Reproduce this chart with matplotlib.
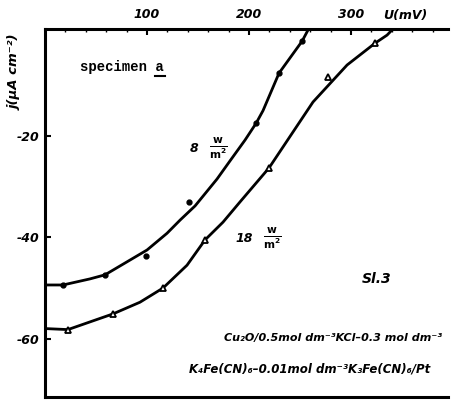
import numpy as np
import matplotlib
matplotlib.use('Agg')
from matplotlib import pyplot as plt
from matplotlib.lines import Line2D

# curve 8 W/m2 (filled circles)
u_8 = [0, 17.6, 44.1, 58.8, 100, 119.6, 132.4, 147.1, 168.6, 181.4, 196.1, 206.9, 213.7, 229.4, 252.0, 257.8]
j_8 = [-49.4, -49.4, -48.2, -47.4, -42.5, -39.2, -36.6, -33.8, -28.5, -24.9, -20.8, -17.5, -15.0, -7.6, -1.3, 0.9]
u_8_pts = [17.6, 58.8, 99, 141, 206.9, 229.4, 252.0]
j_8_pts = [-49.4, -47.4, -43.7, -33.0, -17.5, -7.6, -1.3]

# curve 18 W/m2 (open triangles)
u_18 = [0, 22.5, 66.7, 93.1, 115.7, 139.2, 156.9, 174.5, 191.2, 219.6, 262.7, 296.1, 323.5, 335.3, 341]
j_18 = [-58.0, -58.2, -55.1, -52.8, -50.0, -45.5, -40.5, -37.0, -33.0, -26.3, -13.3, -6.0, -1.7, -0.1, 1.1]
u_18_pts = [22.5, 66.7, 115.7, 156.9, 219.6, 277.5, 323.5]
j_18_pts = [-58.2, -55.1, -50.0, -40.5, -26.3, -8.4, -1.7]

x_ticks = [100, 200, 300]
y_ticks = [-20, -40, -60]

fig = plt.figure(figsize=(4.53, 4.01), dpi=100)
ax = fig.add_axes([45 / 453, 1 - 397 / 401, 403 / 453, 368 / 401])

ax.plot(u_8, j_8, color='black', lw=2.0, solid_capstyle='round')
ax.plot(u_8_pts, j_8_pts, 'o', color='black', ms=3.5)
ax.plot(u_18, j_18, color='black', lw=2.0, solid_capstyle='round')
ax.plot(u_18_pts, j_18_pts, '^', mfc='white', mec='black', mew=1.3, ms=4.5)

ax.set_xlim(0, 395)
ax.set_ylim(-71.5, 1.1)

ax.xaxis.tick_top()
ax.set_xticks(x_ticks)
ax.set_xticks(np.arange(20, 395, 20), minor=True)
ax.set_yticks(y_ticks)
lbl = dict(fontsize=9, fontweight='bold', fontstyle='italic', family='DejaVu Sans')
ax.set_xticklabels([str(t) for t in x_ticks], **lbl)
ax.set_yticklabels([str(t) for t in y_ticks], **lbl)
ax.tick_params(axis='x', which='major', direction='in', length=4, width=1.5, pad=6)
ax.tick_params(axis='x', which='minor', direction='in', length=2, width=1)
ax.tick_params(axis='y', direction='in', length=4, width=1.5, pad=4)

for s in ['top', 'left', 'bottom']:
    ax.spines[s].set_linewidth(2.2)
ax.spines['right'].set_visible(False)

fig.text(405 / 453, 1 - 15 / 401, 'U(mV)', ha='center', va='center', **lbl)
fig.text(15 / 453, 1 - 72 / 401, 'j(μA cm⁻²)', ha='center', va='center', rotation=90,
         fontsize=9.5, fontweight='bold', fontstyle='italic')

fig.text(80 / 453, 1 - 67 / 401, 'specimen a', fontsize=10, fontweight='bold',
         family='Liberation Mono', va='center', ha='left')
fig.add_artist(Line2D([155 / 453, 165 / 453], [1 - 76 / 401, 1 - 76 / 401],
                      color='black', lw=1.5))

ax.text(0.37, 0.675, '8', transform=ax.transAxes, fontsize=9, fontweight='bold',
        fontstyle='italic', va='center', ha='center')
ax.text(0.43, 0.675, r'$\frac{\mathbf{w}}{\mathbf{m^2}}$', transform=ax.transAxes,
        fontsize=11, va='center', ha='center')
ax.text(0.495, 0.43, '18', transform=ax.transAxes, fontsize=9, fontweight='bold',
        fontstyle='italic', va='center', ha='center')
ax.text(0.565, 0.43, r'$\frac{\mathbf{w}}{\mathbf{m^2}}$', transform=ax.transAxes,
        fontsize=11, va='center', ha='center')
ax.text(0.785, 0.32, 'Sl.3', transform=ax.transAxes, fontsize=10, fontweight='bold',
        fontstyle='italic', va='center', ha='left')
ax.text(0.985, 0.16, 'Cu₂O/0.5mol dm⁻³KCl–0.3 mol dm⁻³', transform=ax.transAxes,
        fontsize=8, fontweight='bold', fontstyle='italic', va='center', ha='right')
ax.text(0.955, 0.075, 'K₄Fe(CN)₆–0.01mol dm⁻³K₃Fe(CN)₆/Pt', transform=ax.transAxes,
        fontsize=8.5, fontweight='bold', fontstyle='italic', va='center', ha='right')

fig.savefig('out.png', dpi=100)
